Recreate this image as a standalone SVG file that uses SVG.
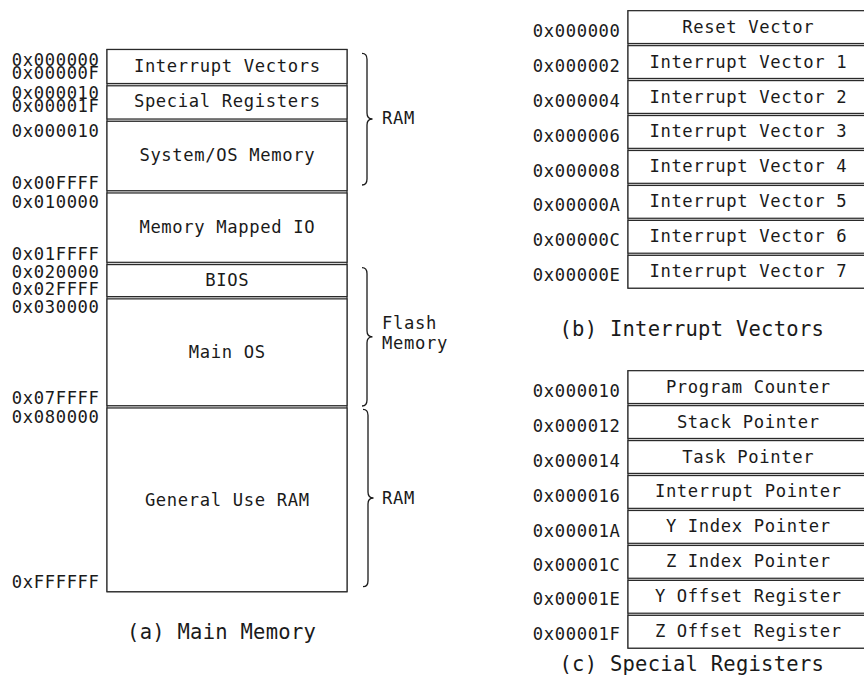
<svg xmlns="http://www.w3.org/2000/svg" width="864" height="681" viewBox="0 0 864 681">
<style>
text{font-family:"DejaVu Sans Mono","Liberation Mono",monospace;fill:#1a1a1a}
.t{font-size:17.2px;letter-spacing:0.64px}
.c{font-size:20.5px;letter-spacing:0.26px;text-anchor:middle}
.m{text-anchor:middle}
.a{text-anchor:end}
.frame{fill:#d4d4d4;stroke:#2a2a2a;stroke-width:1.2}
.cell{fill:#fff;stroke:#2a2a2a;stroke-width:1.2}
.brace{fill:none;stroke:#1a1a1a;stroke-width:1.3}
</style>
<rect width="864" height="681" fill="#fff"/>
<!-- (a) Main Memory -->
<g id="main-memory">
<rect class="frame" x="107" y="49.5" width="240" height="542.2"/>
<g id="a-interrupt-vectors"><rect class="cell" x="107" y="49.5" width="240" height="34"/><text class="t m" x="227.3" y="72.3">Interrupt Vectors</text></g>
<g id="a-special-registers"><rect class="cell" x="107" y="85.8" width="240" height="33.2"/><text class="t m" x="227.3" y="107">Special Registers</text></g>
<g id="a-system-os"><rect class="cell" x="107" y="121.3" width="240" height="69.4"/><text class="t m" x="227.3" y="161">System/OS Memory</text></g>
<g id="a-mmio"><rect class="cell" x="107" y="193" width="240" height="69.3"/><text class="t m" x="227.3" y="233.3">Memory Mapped IO</text></g>
<g id="a-bios"><rect class="cell" x="107" y="264.6" width="240" height="32"/><text class="t m" x="227.3" y="286.3">BIOS</text></g>
<g id="a-main-os"><rect class="cell" x="107" y="298.9" width="240" height="106.8"/><text class="t m" x="227.3" y="358.2">Main OS</text></g>
<g id="a-general-ram"><rect class="cell" x="107" y="408" width="240" height="183.7"/><text class="t m" x="227.3" y="505.6">General Use RAM</text></g>
<g id="a-addresses">
<text class="t a" x="99.6" y="66">0x000000</text>
<text class="t a" x="99.6" y="79.3">0x00000F</text>
<text class="t a" x="99.6" y="99.3">0x000010</text>
<text class="t a" x="99.6" y="111.7">0x00001F</text>
<text class="t a" x="99.6" y="136.7">0x000010</text>
<text class="t a" x="99.6" y="189">0x00FFFF</text>
<text class="t a" x="99.6" y="208.3">0x010000</text>
<text class="t a" x="99.6" y="260">0x01FFFF</text>
<text class="t a" x="99.6" y="277.8">0x020000</text>
<text class="t a" x="99.6" y="295.2">0x02FFFF</text>
<text class="t a" x="99.6" y="313.3">0x030000</text>
<text class="t a" x="99.6" y="404">0x07FFFF</text>
<text class="t a" x="99.6" y="423.3">0x080000</text>
<text class="t a" x="99.6" y="588.3">0xFFFFFF</text>
</g>
</g>
<g id="connectors">
<path class="brace" d="M362,53.3 Q367,53.3 367,59.3 L367,113 Q367,119 372.5,119 Q367,119 367,125 L367,179 Q367,185 362,185"/>
<path class="brace" d="M362,267.7 Q367,267.7 367,273.7 L367,330.8 Q367,336.8 372.5,336.8 Q367,336.8 367,342.8 L367,400 Q367,406 362,406"/>
<path class="brace" d="M363,409.3 Q368,409.3 368,415.3 L368,492 Q368,498 373.5,498 Q368,498 368,504 L368,580.7 Q368,586.7 363,586.7"/>
</g>
<g id="brace-labels">
<text class="t" x="382" y="124">RAM</text>
<text class="t" x="382" y="329">Flash</text>
<text class="t" x="382" y="349">Memory</text>
<text class="t" x="382" y="504">RAM</text>
</g>
<text class="c" x="221.6" y="638.5">(a) Main Memory</text>
<!-- (b) Interrupt Vectors -->
<g id="interrupt-vectors">
<rect class="frame" x="628" y="10.7" width="240" height="277.45"/>
<g id="b0"><rect class="cell" x="628" y="10.7" width="240" height="32.8"/><text class="t m" x="748.3" y="32.6">Reset Vector</text><text class="t a" x="620.6" y="36.7">0x000000</text></g>
<g id="b1"><rect class="cell" x="628" y="45.65" width="240" height="32.8"/><text class="t m" x="748.3" y="67.55">Interrupt Vector 1</text><text class="t a" x="620.6" y="71.65">0x000002</text></g>
<g id="b2"><rect class="cell" x="628" y="80.6" width="240" height="32.8"/><text class="t m" x="748.3" y="102.5">Interrupt Vector 2</text><text class="t a" x="620.6" y="106.6">0x000004</text></g>
<g id="b3"><rect class="cell" x="628" y="115.55" width="240" height="32.8"/><text class="t m" x="748.3" y="137.45">Interrupt Vector 3</text><text class="t a" x="620.6" y="141.55">0x000006</text></g>
<g id="b4"><rect class="cell" x="628" y="150.5" width="240" height="32.8"/><text class="t m" x="748.3" y="172.4">Interrupt Vector 4</text><text class="t a" x="620.6" y="176.5">0x000008</text></g>
<g id="b5"><rect class="cell" x="628" y="185.45" width="240" height="32.8"/><text class="t m" x="748.3" y="207.35">Interrupt Vector 5</text><text class="t a" x="620.6" y="211.45">0x00000A</text></g>
<g id="b6"><rect class="cell" x="628" y="220.4" width="240" height="32.8"/><text class="t m" x="748.3" y="242.3">Interrupt Vector 6</text><text class="t a" x="620.6" y="246.4">0x00000C</text></g>
<g id="b7"><rect class="cell" x="628" y="255.35" width="240" height="32.8"/><text class="t m" x="748.3" y="277.25">Interrupt Vector 7</text><text class="t a" x="620.6" y="281.35">0x00000E</text></g>
</g>
<text class="c" x="691.8" y="335.5">(b) Interrupt Vectors</text>
<!-- (c) Special Registers -->
<g id="special-registers">
<rect class="frame" x="628" y="370.7" width="240" height="277.45"/>
<g id="c0"><rect class="cell" x="628" y="370.7" width="240" height="32.8"/><text class="t m" x="748.3" y="392.6">Program Counter</text><text class="t a" x="620.6" y="396.9">0x000010</text></g>
<g id="c1"><rect class="cell" x="628" y="405.65" width="240" height="32.8"/><text class="t m" x="748.3" y="427.55">Stack Pointer</text><text class="t a" x="620.6" y="431.85">0x000012</text></g>
<g id="c2"><rect class="cell" x="628" y="440.6" width="240" height="32.8"/><text class="t m" x="748.3" y="462.5">Task Pointer</text><text class="t a" x="620.6" y="466.8">0x000014</text></g>
<g id="c3"><rect class="cell" x="628" y="475.55" width="240" height="32.8"/><text class="t m" x="748.3" y="497.45">Interrupt Pointer</text><text class="t a" x="620.6" y="501.75">0x000016</text></g>
<g id="c4"><rect class="cell" x="628" y="510.5" width="240" height="32.8"/><text class="t m" x="748.3" y="532.4">Y Index Pointer</text><text class="t a" x="620.6" y="536.5">0x00001A</text></g>
<g id="c5"><rect class="cell" x="628" y="545.45" width="240" height="32.8"/><text class="t m" x="748.3" y="567.35">Z Index Pointer</text><text class="t a" x="620.6" y="571.45">0x00001C</text></g>
<g id="c6"><rect class="cell" x="628" y="580.4" width="240" height="32.8"/><text class="t m" x="748.3" y="602.3">Y Offset Register</text><text class="t a" x="620.6" y="605.4">0x00001E</text></g>
<g id="c7"><rect class="cell" x="628" y="615.35" width="240" height="32.8"/><text class="t m" x="748.3" y="637.25">Z Offset Register</text><text class="t a" x="620.6" y="640.35">0x00001F</text></g>
</g>
<text class="c" x="691.8" y="671">(c) Special Registers</text>
</svg>
